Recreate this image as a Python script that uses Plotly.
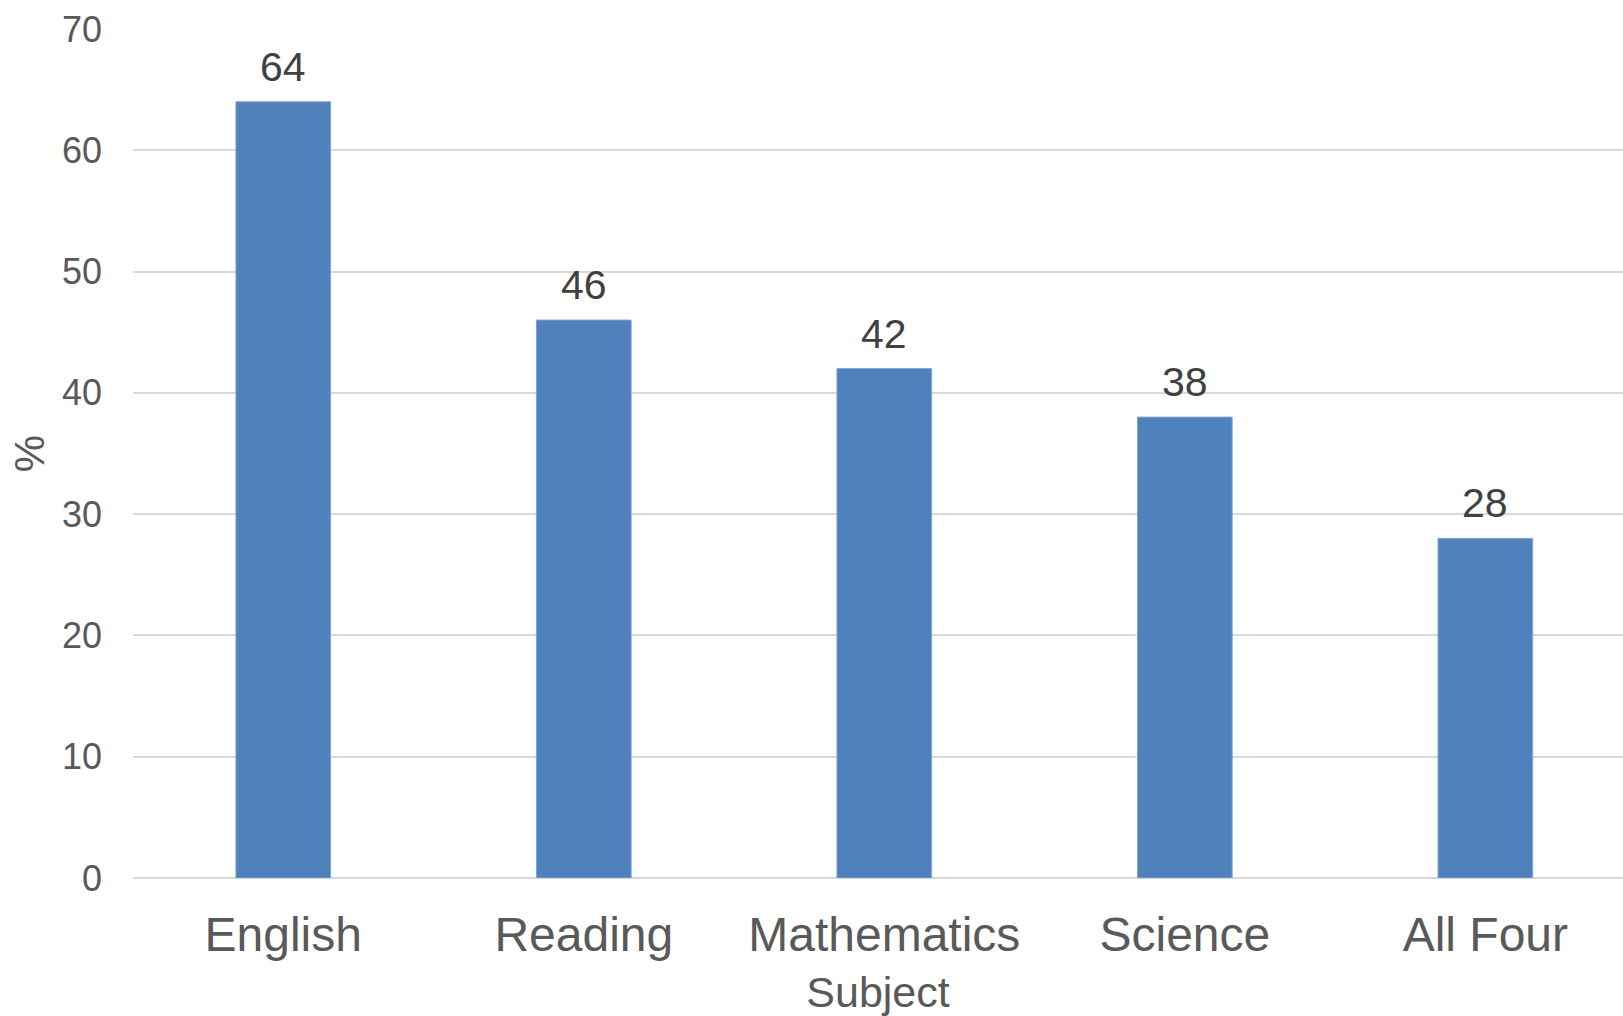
import plotly.graph_objects as go

subjects = ["English", "Reading", "Mathematics", "Science", "All Four"]
percent = [64, 46, 42, 38, 28]
y_ticks = [0, 10, 20, 30, 40, 50, 60, 70]

FONT = "Liberation Sans, Arial, sans-serif"

fig = go.Figure()
fig.add_trace(go.Bar(
    x=subjects, y=percent,
    marker=dict(color="#4F81BD", line=dict(color="#7FA3D2", width=1)),
    width=0.315,
    hoverinfo="x+y",
))

for s, v in zip(subjects, percent):
    fig.add_annotation(x=s, y=v, text=str(v), showarrow=False,
                       yanchor="bottom", yshift=10,
                       font=dict(family=FONT, size=41, color="#404040"))

fig.update_layout(
    width=1623, height=1016,
    margin=dict(l=133, r=0, t=29, b=138),
    plot_bgcolor="white", paper_bgcolor="white",
    showlegend=False,
    font=dict(family=FONT),
    xaxis=dict(
        range=[-0.5, 4.458],
        showgrid=False, showline=False, zeroline=False,
        tickfont=dict(family=FONT, size=48, color="#595959"),
        ticks="", ticklabelstandoff=24,
        title=dict(text="Subject", font=dict(family=FONT, size=43, color="#595959"), standoff=16),
    ),
    yaxis=dict(
        range=[0, 70], tickvals=y_ticks,
        showgrid=True, gridcolor="#D9D9D9", gridwidth=2,
        zeroline=True, zerolinecolor="#D9D9D9", zerolinewidth=2,
        showline=False, ticks="",
        tickfont=dict(family=FONT, size=36, color="#595959"),
        ticklabelstandoff=30,
        title=dict(text="%", font=dict(family=FONT, size=42, color="#595959"), standoff=4),
    ),
)

fig.write_html("out.html")
